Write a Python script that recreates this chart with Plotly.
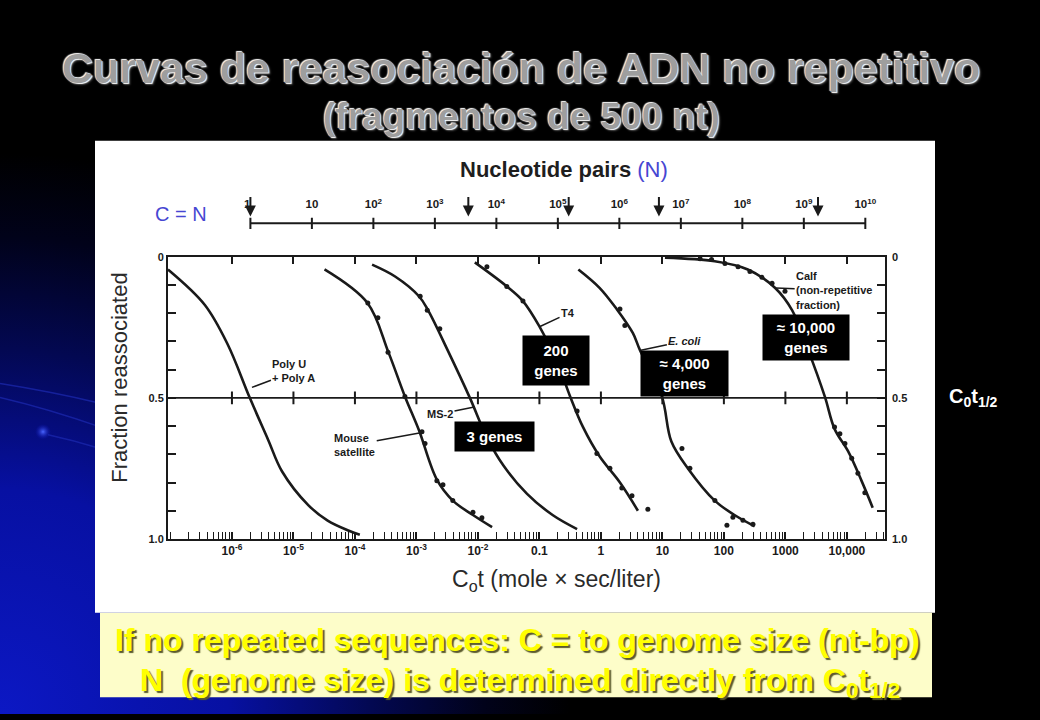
import base64
import numpy as np
import plotly.graph_objects as go

W, H = 1040, 720

# ---------------- data ----------------
# reassociation curves: C0t (mole x sec/liter) vs fraction reassociated
polyU_cot = [9.1e-8, 3.6e-7, 8.5e-7, 1.95e-6, 3.9e-6, 6.5e-6, 1.74e-5, 3.6e-5, 7.8e-5, 1.2e-4]
polyU_frac = [0.045, 0.17, 0.31, 0.50, 0.65, 0.76, 0.88, 0.935, 0.97, 0.985]

mouse_cot = [3.2e-5, 1.6e-4, 3.5e-4, 6.5e-4, 1.1e-3, 2.15e-3, 3.9e-3, 8.3e-3, 1.7e-2]
mouse_frac = [0.045, 0.164, 0.338, 0.495, 0.615, 0.79, 0.864, 0.915, 0.958]

ms2_cot = [1.9e-4, 4.5e-4, 1.1e-3, 1.55e-3, 3.2e-3, 7.4e-3, 1.4e-2, 2.6e-2, 6.3e-2, 0.166, 0.41]
ms2_frac = [0.028, 0.07, 0.14, 0.19, 0.33, 0.50, 0.64, 0.74, 0.84, 0.916, 0.965]

t4_cot = [8.9e-3, 2.95e-2, 5.4e-2, 0.102, 0.19, 0.316, 0.51, 0.95, 2.04, 4.0]
t4_frac = [0.02, 0.105, 0.157, 0.25, 0.366, 0.495, 0.603, 0.707, 0.80, 0.90]

ecoli_cot = [0.43, 0.95, 1.8, 3.3, 4.3, 9.8, 14, 26, 71, 151, 316]
ecoli_frac = [0.045, 0.11, 0.185, 0.27, 0.33, 0.495, 0.655, 0.75, 0.864, 0.916, 0.955]

calf_cot = [11, 71, 245, 676, 1290, 2340, 4370, 6300, 10500, 17400, 26300]
calf_frac = [0.003, 0.016, 0.045, 0.11, 0.19, 0.33, 0.495, 0.61, 0.69, 0.795, 0.889]

# measured data points
mouse_pts_cot = [1.62e-4, 2.36e-4, 3.45e-4, 6.5e-4, 1.23e-3, 1.38e-3, 2.15e-3, 2.7e-3, 3.9e-3, 8.3e-3, 1.16e-2]
mouse_pts_frac = [0.164, 0.216, 0.338, 0.495, 0.62, 0.662, 0.794, 0.808, 0.864, 0.905, 0.925]
ms2_pts_cot = [1.15e-3, 1.5e-3, 2.4e-3]
ms2_pts_frac = [0.14, 0.19, 0.255]
t4_pts_cot = [1.4e-2, 2.95e-2, 5.4e-2, 0.41, 0.86, 1.4, 2.19, 3.2, 5.8]
t4_pts_frac = [0.035, 0.105, 0.157, 0.547, 0.697, 0.749, 0.819, 0.847, 0.895]
ecoli_pts_cot = [2.04, 2.45, 20.8, 28, 71.4, 112, 140, 204, 297]
ecoli_pts_frac = [0.185, 0.244, 0.679, 0.749, 0.864, 0.951, 0.923, 0.934, 0.948]
calf_pts_cot = [41, 63, 104, 170, 265, 415, 607, 985, 6300, 7700, 9300, 12000, 15100, 19600]
calf_pts_frac = [0.007, 0.01, 0.024, 0.035, 0.052, 0.073, 0.094, 0.122, 0.603, 0.627, 0.662, 0.714, 0.767, 0.836]

# bottom axis ticks
cot_ticks = [1e-6, 1e-5, 1e-4, 1e-3, 1e-2, 0.1, 1, 10, 100, 1000, 10000]
cot_ticklabels = ["10<sup>-6</sup>", "10<sup>-5</sup>", "10<sup>-4</sup>", "10<sup>-3</sup>",
                  "10<sup>-2</sup>", "0.1", "1", "10", "100", "1000", "10,000"]
frac_ticks = [0.0, 0.1, 0.2, 0.3, 0.4, 0.5, 0.6, 0.7, 0.8, 0.9, 1.0]
frac_ticklabels = ["0", "", "", "", "", "0.5", "", "", "", "", "1.0"]

# top axis: nucleotide pairs (N)
n_ticks = [1, 1e1, 1e2, 1e3, 1e4, 1e5, 1e6, 1e7, 1e8, 1e9, 1e10]
n_ticklabels = ["1", "10", "10<sup>2</sup>", "10<sup>3</sup>", "10<sup>4</sup>", "10<sup>5</sup>",
                "10<sup>6</sup>", "10<sup>7</sup>", "10<sup>8</sup>", "10<sup>9</sup>", "10<sup>10</sup>"]
n_arrows = [1, 3.5e3, 1.5e5, 4.4e6, 1.7e9]
N_PER_COT_LOG = 5.70   # log10(N) = log10(C0t) + 5.70

# ---------------- helpers ----------------
def px(x):
    return x / W

def py(y):
    return 1 - y / H

line_col = "#1a1a1a"
FONT = "Liberation Sans, Arial, sans-serif"

x_range = [-7.04, 4.62]
x_dom = [px(168), px(885)]
y_dom = [py(542), py(255)]
y2_dom = [py(231), py(181)]

minor_ticks = [k * 10.0 ** d for d in range(-8, 5) for k in range(1, 10)
               if x_range[0] <= np.log10(k * 10.0 ** d) <= x_range[1]]

fig = go.Figure()

curves = [(polyU_cot, polyU_frac), (mouse_cot, mouse_frac), (ms2_cot, ms2_frac),
          (t4_cot, t4_frac), (ecoli_cot, ecoli_frac), (calf_cot, calf_frac)]
for c, f in curves:
    fig.add_trace(go.Scatter(x=c, y=f, mode="lines",
                             line=dict(color=line_col, width=2.6, shape="spline", smoothing=1.0),
                             hoverinfo="skip", showlegend=False))

pts = [(mouse_pts_cot, mouse_pts_frac), (ms2_pts_cot, ms2_pts_frac), (t4_pts_cot, t4_pts_frac),
       (ecoli_pts_cot, ecoli_pts_frac), (calf_pts_cot, calf_pts_frac)]
for c, f in pts:
    fig.add_trace(go.Scatter(x=c, y=f, mode="markers",
                             marker=dict(color=line_col, size=5),
                             hoverinfo="skip", showlegend=False))

# decade ticks crossing the 0.5 line (on overlay axis x3)
fig.add_trace(go.Scatter(x=cot_ticks, y=[0.5] * len(cot_ticks), mode="markers",
                         marker=dict(symbol="line-ns", size=9, line=dict(color=line_col, width=2)),
                         xaxis="x3", yaxis="y", hoverinfo="skip", showlegend=False))

# top nucleotide-pair axis
fig.add_trace(go.Scatter(x=[n_ticks[0], n_ticks[-1]], y=[0.2, 0.2], mode="lines",
                         line=dict(color=line_col, width=2), xaxis="x2", yaxis="y2",
                         hoverinfo="skip", showlegend=False))
fig.add_trace(go.Scatter(x=n_ticks, y=[0.2] * len(n_ticks), mode="markers",
                         marker=dict(symbol="line-ns", size=8, line=dict(color=line_col, width=2)),
                         xaxis="x2", yaxis="y2", hoverinfo="skip", showlegend=False))
fig.add_trace(go.Scatter(x=n_ticks, y=[0.56] * len(n_ticks), mode="text", text=n_ticklabels,
                         textposition=["middle left"] + ["middle center"] * (len(n_ticks) - 1),
                         textfont=dict(family=FONT, size=11.5, color=line_col, weight="bold"),
                         xaxis="x2", yaxis="y2", hoverinfo="skip", showlegend=False, cliponaxis=False))

annotations = []
for n in n_arrows:
    annotations.append(dict(x=np.log10(n), y=0.34, xref="x2", yref="y2", text="", showarrow=True,
                            arrowhead=2, arrowsize=1.1, arrowwidth=2, arrowcolor=line_col, ax=0, ay=-21))

# background gradient
svg = f'''<svg xmlns="http://www.w3.org/2000/svg" width="{W}" height="{H}" viewBox="0 0 {W} {H}">
<defs>
<radialGradient id="g" cx="0" cy="{H}" r="570" gradientUnits="userSpaceOnUse">
<stop offset="0" stop-color="#0c18c4"/>
<stop offset="0.4" stop-color="#0710a2"/>
<stop offset="0.65" stop-color="#030852"/>
<stop offset="0.85" stop-color="#01021a"/>
<stop offset="1" stop-color="#000000"/>
</radialGradient>
<radialGradient id="dot"><stop offset="0" stop-color="#4a66ff"/><stop offset="1" stop-color="#0a12b4" stop-opacity="0"/></radialGradient>
</defs>
<rect width="{W}" height="{H}" fill="#000"/>
<rect width="{W}" height="{H}" fill="url(#g)"/>
<path d="M0,384 Q50,392 100,404" stroke="#1c2ab0" stroke-width="1.5" fill="none" opacity="0.7"/>
<path d="M0,398 Q50,410 100,428" stroke="#1c2ab0" stroke-width="1.5" fill="none" opacity="0.7"/>
<path d="M48,436 Q75,442 100,450" stroke="#1c2ab0" stroke-width="1.5" fill="none" opacity="0.7"/>
<circle cx="43" cy="433" r="8" fill="url(#dot)"/>
</svg>'''
src = "data:image/svg+xml;base64," + base64.b64encode(svg.encode()).decode()

shapes = [
    dict(type="rect", xref="paper", yref="paper", x0=px(95), x1=px(935), y0=py(617), y1=py(137),
         fillcolor="white", line=dict(width=0), layer="below"),
    dict(type="rect", xref="paper", yref="paper", x0=px(100), x1=px(932), y0=py(703), y1=py(617),
         fillcolor="#fdfdc9", line=dict(width=0), layer="below"),
    dict(type="line", xref="x domain", yref="y", x0=0, x1=1, y0=0.5, y1=0.5,
         line=dict(color=line_col, width=1.8)),
]

def ann(x, y, text, size, color, weight="normal", shadow="none", **kw):
    d = dict(x=px(x), y=py(y), xref="paper", yref="paper", text=text, showarrow=False,
             xanchor="center", yanchor="middle",
             font=dict(family=FONT, size=size, color=color, weight=weight, shadow=shadow))
    d.update(kw)
    return d

title_shadow = "-1px -1px 1px #ffffff, 1px 1px 1px #ffffff, 2px 2px 2px #3a3a3a"
annotations += [
    ann(521, 63, "Curvas de reasociación de ADN no repetitivo", 43, "#9e9e9e", "bold", title_shadow),
    ann(521, 112, "(fragmentos de 500 nt)", 37, "#9e9e9e", "bold", title_shadow),
    ann(517, 645, "If no repeated sequences: C = to genome size (nt-bp)", 32, "#ffff00", "bold",
        "2px 2px 1px #5b5b2e"),
    ann(520, 688, "N  (genome size) is determined directly from C<sub>0</sub>t<sub>1/2</sub>", 32,
        "#ffff00", "bold", "2px 2px 1px #5b5b2e"),
    ann(973, 398, "C<sub>0</sub>t<sub>1/2</sub>", 20, "white", "bold", "2px 2px 2px #000000"),
    ann(564, 166, "Nucleotide pairs <span style='color:#4646d2;font-weight:normal'>(N)</span>", 22,
        "#1e1e1e", "bold"),
    ann(181, 212, "C = N", 20, "#4646d2", "normal"),
    ann(120, 378, "Fraction reassociated", 22, "#2a2a2a", "normal", textangle=-90),
    ann(556, 584, "C<sub>o</sub>t (mole × sec/liter)", 23, "#2a2a2a", "normal"),
]

# right-side fraction labels
for yv, lab in [(0.0, "0"), (0.5, "0.5"), (1.0, "1.0")]:
    annotations.append(dict(x=px(890), y=yv, xref="paper", yref="y", text=lab, showarrow=False,
                            xanchor="left", yanchor="middle",
                            font=dict(family=FONT, size=11, color=line_col, weight="bold")))

# black gene-count boxes
for cx, cy, w, h, t in [(556, 360, 66, 49, "200<br>genes"), (684, 374, 87, 45, "≈ 4,000<br>genes"),
                        (806, 337, 86, 45, "≈ 10,000<br>genes"), (494, 438, 79, 29, "3 genes")]:
    annotations.append(ann(cx, cy, t, 15, "white", "bold", bgcolor="black", width=w, height=h,
                           borderpad=0, align="center", valign="middle"))

# curve labels with leader lines (tip on the curve in data coordinates)
lab_font = dict(family=FONT, size=11, color=line_col, weight="bold")
for tip_cot, tip_f, text, ax, ay in [
    (10 ** -5.675, 0.463, "Poly U<br>+ Poly A", 42, -16),
    (10 ** -2.08, 0.533, "MS-2", -33, 7),
    (10 ** -2.93, 0.624, "Mouse<br>satellite", -66, 12),
    (10 ** -0.99, 0.247, "T4", 28, -13),
    (10 ** 0.65, 0.331, "<i>E. coli</i>", 44, -9),
    (10 ** 2.85, 0.111, "Calf<br>(non-repetitive<br>fraction)", 58, 2),
]:
    annotations.append(dict(x=np.log10(tip_cot), y=tip_f, xref="x", yref="y", text=text,
                            showarrow=True, arrowhead=0, arrowwidth=1.5, arrowcolor=line_col,
                            ax=ax, ay=ay, font=lab_font, align="left"))

fig.update_layout(
    width=W, height=H, margin=dict(l=0, r=0, t=0, b=0),
    paper_bgcolor="#000000", plot_bgcolor="rgba(0,0,0,0)", showlegend=False, hovermode=False,
    images=[dict(source=src, xref="paper", yref="paper", x=0, y=1, sizex=1, sizey=1,
                 sizing="stretch", xanchor="left", yanchor="top", layer="below")],
    shapes=shapes, annotations=annotations,
    xaxis=dict(type="log", range=x_range, domain=x_dom, anchor="y", tickvals=cot_ticks,
               ticktext=cot_ticklabels, ticks="inside", ticklen=7, tickwidth=2, tickcolor=line_col,
               showline=True, linecolor=line_col, linewidth=2, mirror="ticks", showgrid=False,
               zeroline=False, tickfont=dict(family=FONT, size=12, color=line_col, weight="bold")),
    yaxis=dict(range=[1.0, 0.0], domain=y_dom, anchor="x", tickvals=frac_ticks,
               ticktext=frac_ticklabels, ticks="inside", ticklen=8, tickwidth=1.5, tickcolor=line_col,
               showline=True, linecolor=line_col, linewidth=2, mirror="ticks", showgrid=False,
               zeroline=False, tickfont=dict(family=FONT, size=11, color=line_col, weight="bold")),
    xaxis2=dict(type="log", range=[x_range[0] + N_PER_COT_LOG, x_range[1] + N_PER_COT_LOG],
                domain=x_dom, anchor="y2", visible=False),
    yaxis2=dict(range=[0, 1], domain=y2_dom, anchor="x2", visible=False),
    xaxis3=dict(type="log", range=x_range, overlaying="x", anchor="y", side="bottom",
                tickvals=minor_ticks, ticks="inside", ticklen=7, tickwidth=1.3, tickcolor=line_col,
                showticklabels=False, showline=False, showgrid=False, zeroline=False),
)

fig.write_html("out.html", config={"displayModeBar": False},
               post_script="document.body.style.margin='0';document.body.style.background='#000';")
